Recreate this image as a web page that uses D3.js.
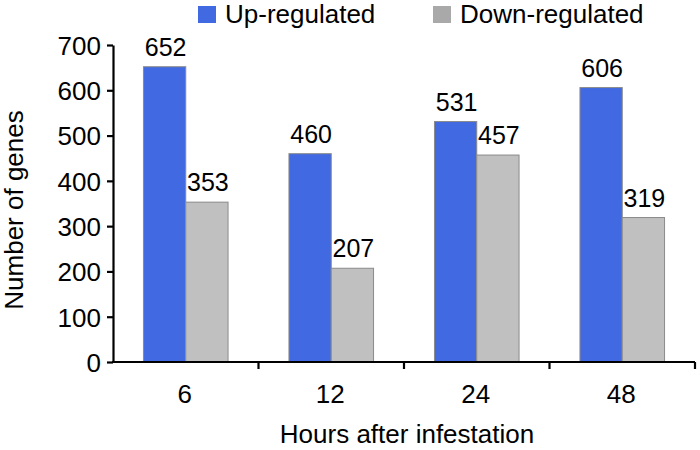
<!DOCTYPE html>
<html>
<head>
<meta charset="utf-8">
<script src="https://cdn.jsdelivr.net/npm/d3@7"></script>
<style>
  html, body { margin: 0; padding: 0; background: #fff; }
  svg { display: block; }
  text { font-family: "Liberation Sans", Arial, sans-serif; fill: #000; }
</style>
</head>
<body>
<svg id="chart" width="700" height="450"></svg>
<script>
const categories = ["6", "12", "24", "48"];
const seriesNames = ["Up-regulated", "Down-regulated"];
const upRegulated = [652, 460, 531, 606];
const downRegulated = [353, 207, 457, 319];
const yTicks = [0, 100, 200, 300, 400, 500, 600, 700];

const barColors = ["#4169E1", "#C0C0C0"];
const legendColors = ["#4169E1", "#A9A9A9"];

const svg = d3.select("#chart");
const margin = { left: 113, right: 5, top: 45, bottom: 88 };
const W = 700, H = 450;
const x0 = margin.left, x1 = W - margin.right;
const yBase = H - margin.bottom;

const x = d3.scaleBand().domain(categories).range([x0, x1]).paddingInner(0).paddingOuter(0);
const xs = d3.scaleBand().domain(seriesNames).range([0, x.bandwidth()]).paddingInner(0).paddingOuter(0.72);
const y = d3.scaleLinear().domain([0, 700]).range([yBase, margin.top]);

const data = categories.map((c, i) => ({ cat: c, values: [upRegulated[i], downRegulated[i]] }));

// bars
const g = svg.append("g");
data.forEach(d => {
  d.values.forEach((v, j) => {
    const bx = x(d.cat) + xs(seriesNames[j]);
    g.append("rect")
      .attr("x", bx)
      .attr("y", y(v))
      .attr("width", xs.bandwidth())
      .attr("height", y(0) - y(v))
      .attr("fill", barColors[j])
      .attr("stroke", "#8a8a8a")
      .attr("stroke-width", 1);
    g.append("text")
      .attr("x", bx + xs.bandwidth() / 2 + 1)
      .attr("y", y(v) - 11)
      .attr("text-anchor", "middle")
      .attr("font-size", 25)
      .text(v);
  });
});

// y axis
const yAxis = d3.axisLeft(y).tickValues(yTicks).tickSize(6).tickPadding(6).tickSizeOuter(0);
const ya = svg.append("g").attr("transform", `translate(${x0},0)`).call(yAxis);
ya.select(".domain").attr("stroke", "#000").attr("stroke-width", 2.2);
ya.selectAll(".tick line").attr("stroke", "#000").attr("stroke-width", 2.2);
ya.selectAll(".tick text").attr("font-size", 26).attr("font-family", "Liberation Sans, Arial, sans-serif").attr("fill", "#000").attr("dy", "0.36em");

// x axis
const xa = svg.append("g").attr("transform", `translate(0,${yBase})`);
xa.append("line").attr("x1", x0 - 1).attr("x2", x1).attr("y1", 0).attr("y2", 0)
  .attr("stroke", "#000").attr("stroke-width", 2.2);
const bounds = categories.map(c => x(c) + x.bandwidth());
bounds.forEach(b => {
  xa.append("line").attr("x1", b).attr("x2", b).attr("y1", 0).attr("y2", 7)
    .attr("stroke", "#000").attr("stroke-width", 2.2);
});
categories.forEach(c => {
  xa.append("text")
    .attr("x", x(c) + x.bandwidth() / 2 - 1)
    .attr("y", 41)
    .attr("text-anchor", "middle")
    .attr("font-size", 26)
    .text(c);
});

// axis titles
svg.append("text")
  .attr("x", (x0 + x1) / 2 + 3)
  .attr("y", 443)
  .attr("text-anchor", "middle")
  .attr("font-size", 26)
  .text("Hours after infestation");

svg.append("text")
  .attr("transform", `translate(23,${210}) rotate(-90)`)
  .attr("text-anchor", "middle")
  .attr("font-size", 26)
  .text("Number of genes");

// legend
const legendX = [198, 433];
seriesNames.forEach((s, i) => {
  svg.append("rect")
    .attr("x", legendX[i]).attr("y", 6)
    .attr("width", 18).attr("height", 17)
    .attr("fill", legendColors[i]);
  svg.append("text")
    .attr("x", legendX[i] + 27)
    .attr("y", 23)
    .attr("font-size", 26)
    .text(s);
});
</script>
</body>
</html>
